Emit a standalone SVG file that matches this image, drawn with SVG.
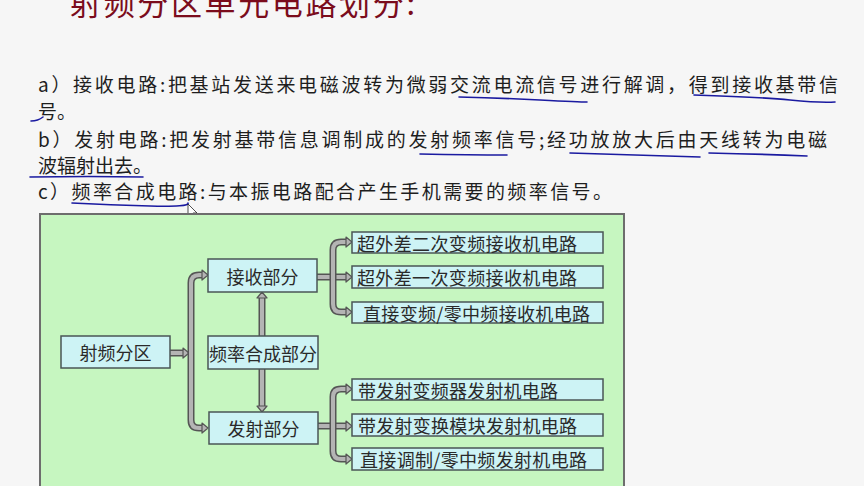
<svg xmlns="http://www.w3.org/2000/svg" width="864" height="486" viewBox="0 0 864 486">
<style>
.title{font-family:"Noto Sans CJK SC","Liberation Sans",sans-serif;font-size:31px;fill:#7b0c1c}
.body{font-family:"Noto Sans CJK SC","Liberation Sans",sans-serif;font-size:19px;fill:#1e1e1e}
.nt{font-family:"Noto Sans CJK SC","Liberation Sans",sans-serif;font-size:18px;fill:#2a2a2a;text-anchor:middle;dominant-baseline:central}
.st{font-family:"Noto Sans CJK SC","Liberation Sans",sans-serif;font-size:18px;fill:#2a2a2a;dominant-baseline:central}
.box{fill:#cdf3f5;stroke:#4a5656;stroke-width:1.5}
.po{fill:none;stroke:#555;stroke-width:7;stroke-linejoin:round}
.pi{fill:none;stroke:#b4b4b4;stroke-width:4;stroke-linejoin:round}
.ah{fill:#b4b4b4;stroke:#555;stroke-width:1.2;stroke-linejoin:round}
.ink{fill:none;stroke:#1a1aa0;stroke-width:1.6;stroke-linecap:round}
</style>
<rect x="0" y="0" width="864" height="486" fill="#f6f6f6"/>
<text class="title" x="70" y="15" textLength="345">射频分区单元电路划分:</text>
<g id="text">
<text class="body" x="38" y="92" textLength="800">a）接收电路:把基站发送来电磁波转为微弱交流电流信号进行解调，得到接收基带信</text>
<text class="body" x="38" y="119">号。</text>
<text class="body" x="38" y="147" textLength="789">b）发射电路:把发射基带信息调制成的发射频率信号;经功放放大后由天线转为电磁</text>
<text class="body" x="38" y="173">波辐射出去。</text>
<text class="body" x="38" y="199" textLength="574">c）频率合成电路:与本振电路配合产生手机需要的频率信号。</text>
</g>
<g id="annotations">
<path class="ink" d="M459 97 Q500 98 540 100 T587 102"/>
<path class="ink" d="M694 95 Q760 97 790 100 T835 102"/>
<path class="ink" d="M31 121 Q38 121 43 117"/>
<path class="ink" d="M420 154 Q470 155 507 155"/>
<path class="ink" d="M570 153 Q640 155 700 157"/>
<path class="ink" d="M709 153 Q760 154 807 156"/>
<path class="ink" d="M30 177 Q90 176 143 177"/>
<path class="ink" d="M72 203 Q110 205 150 206 T188 203"/>
<path d="M188 204 L188 217 L191 214 L194 220 L196 219 L193 213 L197 213 Z" fill="#fff" stroke="#222" stroke-width="0.8"/>
</g>
<rect x="40" y="214" width="584" height="290" fill="#c6f6c0" stroke="#6d6d6d" stroke-width="2"/>
<g id="connectors">
<path class="po" d="M170 353 H183"/><path class="pi" d="M170 353 H183"/>
<polygon class="ah" points="183,348 189,353 183,358"/>
<path class="po" d="M202 275 H199 Q191 275 191 283 V420 Q191 428 199 428 H202"/>
<path class="pi" d="M202 275 H199 Q191 275 191 283 V420 Q191 428 199 428 H202"/>
<polygon class="ah" points="202,270 208,275 202,280"/>
<polygon class="ah" points="202,423 208,428 202,433"/>
<path class="po" d="M262 298 V336"/><path class="pi" d="M262 298 V336"/>
<polygon class="ah" points="257,298 262,292 267,298"/>
<path class="po" d="M262 369 V406"/><path class="pi" d="M262 369 V406"/>
<polygon class="ah" points="257,406 262,412 267,406"/>
<path class="po" d="M317 277 H346"/><path class="pi" d="M317 277 H346"/>
<path class="po" d="M346 242 H341 Q333 242 333 250 V304 Q333 312 341 312 H346"/>
<path class="pi" d="M346 242 H341 Q333 242 333 250 V304 Q333 312 341 312 H346"/>
<polygon class="ah" points="346,237 352,242 346,247"/>
<polygon class="ah" points="346,272 352,277 346,282"/>
<polygon class="ah" points="346,307 352,312 346,317"/>
<path class="po" d="M318 426 H346"/><path class="pi" d="M318 426 H346"/>
<path class="po" d="M346 389 H341 Q333 389 333 397 V451 Q333 459 341 459 H346"/>
<path class="pi" d="M346 389 H341 Q333 389 333 397 V451 Q333 459 341 459 H346"/>
<polygon class="ah" points="346,384 352,389 346,394"/>
<polygon class="ah" points="346,421 352,426 346,431"/>
<polygon class="ah" points="346,454 352,459 346,464"/>
</g>
<g id="n-rf"><rect class="box" x="61" y="336" width="109" height="32"/><text class="nt" x="115.5" y="352">射频分区</text></g>
<g id="n-rx"><rect class="box" x="208" y="259" width="109" height="33"/><text class="nt" x="262.5" y="275.5">接收部分</text></g>
<g id="n-syn"><rect class="box" x="208" y="336" width="110" height="33"/><text class="nt" x="263" y="352.5" textLength="108">频率合成部分</text></g>
<g id="n-tx"><rect class="box" x="209" y="412" width="109" height="32"/><text class="nt" x="263.5" y="428">发射部分</text></g>
<g id="r1"><rect class="box" x="352" y="232" width="251" height="21"/><text class="st" x="357" y="242.5" textLength="220">超外差二次变频接收机电路</text></g>
<g id="r2"><rect class="box" x="352" y="266" width="251" height="22"/><text class="st" x="357" y="277" textLength="220">超外差一次变频接收机电路</text></g>
<g id="r3"><rect class="box" x="352" y="302" width="251" height="21"/><text class="st" x="363" y="312.5" textLength="227">直接变频/零中频接收机电路</text></g>
<g id="t1"><rect class="box" x="352" y="379" width="251" height="21"/><text class="st" x="358" y="389.5" textLength="200">带发射变频器发射机电路</text></g>
<g id="t2"><rect class="box" x="352" y="414" width="251" height="22"/><text class="st" x="358" y="425" textLength="219">带发射变换模块发射机电路</text></g>
<g id="t3"><rect class="box" x="352" y="448" width="251" height="22"/><text class="st" x="360" y="459" textLength="227">直接调制/零中频发射机电路</text></g>
</svg>
